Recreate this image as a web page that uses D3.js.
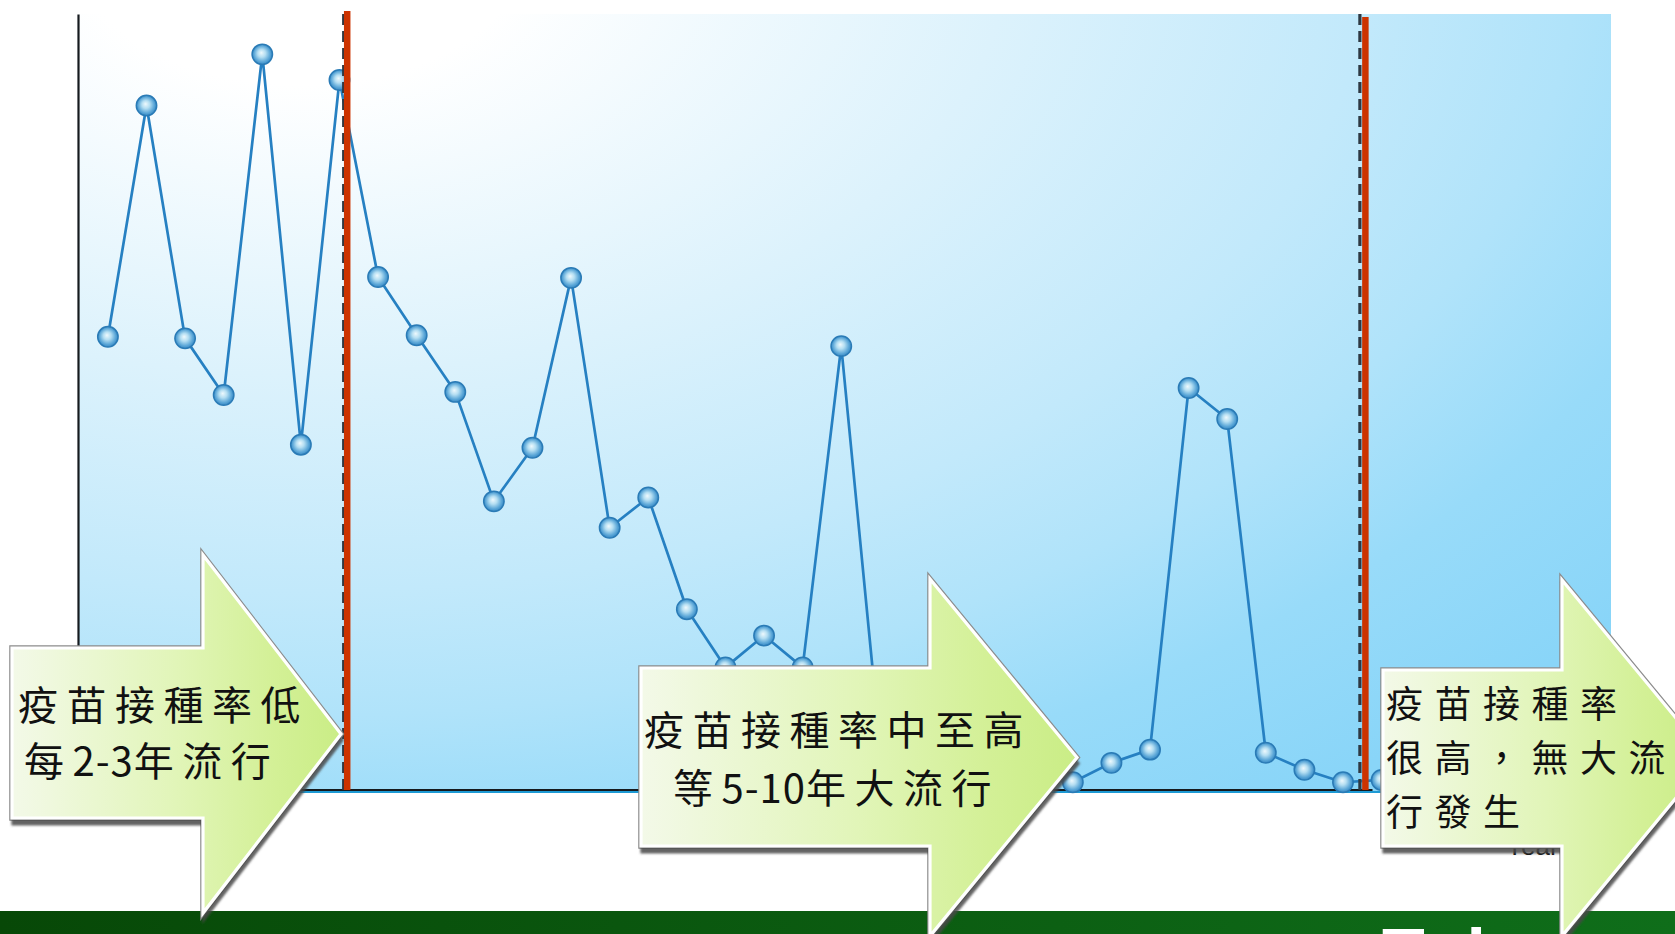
<!DOCTYPE html>
<html><head><meta charset="utf-8">
<script src="https://cdn.jsdelivr.net/npm/d3@7"></script>
<style>html,body{margin:0;padding:0;background:#fff;overflow:hidden}</style>
</head><body><svg id="chart" width="1675" height="934"></svg>
<script>
// ---- data ----
const years = [1960,1961,1962,1963,1964,1965,1966,1967,1968,1969,1970,1971,1972,1973,1974,1975,1976,
               1977,1978,1979,1980,1981,1982,1983,1984,1985,1986,1987,1988,1989,1990,1991,1992,1993];
const cases = [58.4,88.2,58.2,50.9,94.8,44.5,91.5,66.1,58.6,51.3,37.2,44.1,66.0,33.8,37.7,23.3,15.8,
               19.9,15.8,57.2,6.0,3.0,5.0,2.5,1.5,1.0,3.5,5.2,51.8,47.8,4.8,2.6,1.0,1.3];
const periodBreaks = [1966.2, 1992.58];
const yDomain = [0, 100];
const arrowTexts = [
  ["疫苗接種率低", "每2-3年流行"],
  ["疫苗接種率中至高", "等5-10年大流行"],
  ["疫苗接種率", "很高，無大流", "行發生"]
];
const footerText = "Taiwan";
const xAxisLabel = "Year";

// ---- layout ----
const W = 1675, H = 934;
const plot = {left: 78, right: 1611, top: 14, bottom: 790, axisEnd: 1372};
const svg = d3.select("#chart");
const defs = svg.append("defs");

const x = d3.scaleLinear().domain([years[0], years[years.length - 1]]).range([107.9, 1381.6]);
const y = d3.scaleLinear().domain(yDomain).range([plot.bottom, plot.top]);

// background gradient
const bg = defs.append("radialGradient").attr("id", "bgGrad")
  .attr("gradientUnits", "userSpaceOnUse").attr("cx", 0).attr("cy", 0).attr("r", 1725)
  .attr("gradientTransform", "translate(300,-50) scale(1,0.6)");
[[0, "#ffffff"], [0.13, "#ffffff"], [0.41, "#dcf2fc"], [0.62, "#c2e9fb"], [0.74, "#b0e3fa"],
 [0.86, "#98dbf9"], [1, "#89d5f8"]].forEach(s => bg.append("stop").attr("offset", s[0]).attr("stop-color", s[1]));

const dot = defs.append("radialGradient").attr("id", "dotGrad")
  .attr("cx", 0.5).attr("cy", 0.5).attr("r", 0.55).attr("fx", 0.45).attr("fy", 0.42);
[[0, "#eef9fd"], [0.35, "#b4def2"], [0.72, "#5aa6d7"], [1, "#2a7dbd"]]
  .forEach(s => dot.append("stop").attr("offset", s[0]).attr("stop-color", s[1]));

const ag = defs.append("linearGradient").attr("id", "arrowGrad").attr("x1", 0).attr("x2", 1).attr("y1", 0).attr("y2", 0);
[[0, "#f3f9e8"], [0.5, "#e1f5b8"], [0.8, "#d3f096"], [1, "#caed86"]]
  .forEach(s => ag.append("stop").attr("offset", s[0]).attr("stop-color", s[1]));

const gg = defs.append("linearGradient").attr("id", "bandGrad").attr("x1", 0).attr("x2", 1);
[[0, "#074807"], [1, "#0f6e1a"]].forEach(s => gg.append("stop").attr("offset", s[0]).attr("stop-color", s[1]));

const sh = defs.append("filter").attr("id", "shadow").attr("x", -0.1).attr("y", -0.1).attr("width", 1.3).attr("height", 1.3);
sh.append("feDropShadow").attr("dx", 1).attr("dy", 6).attr("stdDeviation", 1.1)
  .attr("flood-color", "#4a4a4a").attr("flood-opacity", 0.85);

// plot background
svg.append("rect").attr("x", plot.left).attr("y", plot.top)
  .attr("width", plot.right - plot.left).attr("height", plot.bottom + 3 - plot.top)
  .attr("fill", "url(#bgGrad)");
svg.append("line").attr("x1", plot.left).attr("x2", 1382).attr("y1", plot.bottom + 2).attr("y2", plot.bottom + 2)
  .attr("stroke", "#1e9ad4").attr("stroke-width", 2);

// axes
const xAxisScale = d3.scaleLinear().domain([x.invert(plot.left), x.invert(plot.axisEnd)]).range([plot.left, plot.axisEnd]);
const gx = svg.append("g").attr("transform", `translate(0,${plot.bottom - 0.5})`)
  .call(d3.axisBottom(xAxisScale).tickValues([]).tickSizeOuter(0));
gx.select(".domain").attr("stroke", "#151a1e").attr("stroke-width", 2.2);
const gy = svg.append("g").attr("transform", `translate(${plot.left},0)`)
  .call(d3.axisLeft(y).tickValues([]).tickSizeOuter(0));
gy.select(".domain").attr("stroke", "#151a1e").attr("stroke-width", 2.2);

// series
const pts = years.map((yr, i) => ({yr, v: cases[i]}));
svg.append("path").datum(pts)
  .attr("d", d3.line().x(d => x(d.yr)).y(d => y(d.v)))
  .attr("fill", "none").attr("stroke", "#2680c2").attr("stroke-width", 2.7).attr("stroke-linejoin", "round");
svg.append("g").selectAll("circle").data(pts).join("circle")
  .attr("cx", d => x(d.yr)).attr("cy", d => y(d.v)).attr("r", 10.2)
  .attr("fill", "url(#dotGrad)").attr("stroke", "#2a7bb6").attr("stroke-width", 1.5);

// period break lines
const redTops = [11, 17];
const dashOffsets = [-3.5, -5.5];
periodBreaks.forEach((b, i) => {
  const px = x(b);
  svg.append("line").attr("x1", px + dashOffsets[i]).attr("x2", px + dashOffsets[i]).attr("y1", plot.top).attr("y2", plot.bottom)
    .attr("stroke", "#2e3842").attr("stroke-width", 3.2).attr("stroke-dasharray", "11,6");
  svg.append("line").attr("x1", px).attr("x2", px).attr("y1", redTops[i]).attr("y2", plot.bottom)
    .attr("stroke", "#cc3300").attr("stroke-width", 6.5);
});

// footer band
svg.append("rect").attr("x", 0).attr("y", 911).attr("width", W).attr("height", H - 911).attr("fill", "url(#bandGrad)");
svg.append("text").attr("x", 1382).attr("y", 978).attr("font-family", "Liberation Sans, Arial, sans-serif")
  .attr("font-weight", "bold").attr("font-size", 70).attr("letter-spacing", 4).attr("fill", "#ffffff").text(footerText);
svg.append("text").attr("x", 1506).attr("y", 855).attr("font-family", "Liberation Sans, Arial, sans-serif")
  .attr("font-size", 26).attr("fill", "#111").text(xAxisLabel);

// arrows
const arrowGeo = [
  {x0: 12, xb: 203, xt: 341, r0: 648, r1: 818, h0: 555, h1: 913},
  {x0: 641, xb: 930, xt: 1077, r0: 668, r1: 846, h0: 579, h1: 936},
  {x0: 1383, xb: 1562, xt: 1709, r0: 670, r1: 846, h0: 580, h1: 936}
];
const textPos = [
  [[18, 720], [24, 776]],
  [[644, 745], [673, 803]],
  [[1386, 718], [1386, 772], [1386, 826]]
];
const textSize = [40, 40, 37];
const cjkFont = '"Noto Sans CJK TC","Noto Sans CJK SC",sans-serif';
arrowGeo.forEach((a, i) => {
  const mid = (a.h0 + a.h1) / 2;
  const p = [[a.x0, a.r0], [a.xb, a.r0], [a.xb, a.h0], [a.xt, mid], [a.xb, a.h1], [a.xb, a.r1], [a.x0, a.r1]];
  const d = "M" + p.map(q => q.join(",")).join("L") + "Z";
  const g = svg.append("g");
  g.append("path").attr("d", d).attr("fill", "none").attr("stroke", "#8c8c8c").attr("stroke-width", 5.5)
    .attr("stroke-linejoin", "miter");
  g.append("path").attr("d", d).attr("fill", "url(#arrowGrad)").attr("stroke", "#ffffff").attr("stroke-width", 3.2)
    .attr("filter", "url(#shadow)");
  const fs = textSize[i];
  const cjkSpacing = 48.5 - fs;
  arrowTexts[i].forEach((line, j) => {
    const t = svg.append("text").attr("x", textPos[i][j][0]).attr("y", textPos[i][j][1])
      .attr("font-family", cjkFont).attr("font-size", fs).attr("fill", "#111");
    const runs = line.match(/[\x00-\x7f]+|[^\x00-\x7f]+/g);
    runs.forEach((r, k) => {
      const ascii = /^[\x00-\x7f]/.test(r);
      const isLast = k === runs.length - 1;
      const body = isLast ? r.slice(0, -1) : r;
      if (body) t.append("tspan").attr("letter-spacing", ascii ? 1 : cjkSpacing).text(body);
      if (isLast) t.append("tspan").attr("letter-spacing", 0).text(r.slice(-1));
    });
  });
});
</script></body></html>
